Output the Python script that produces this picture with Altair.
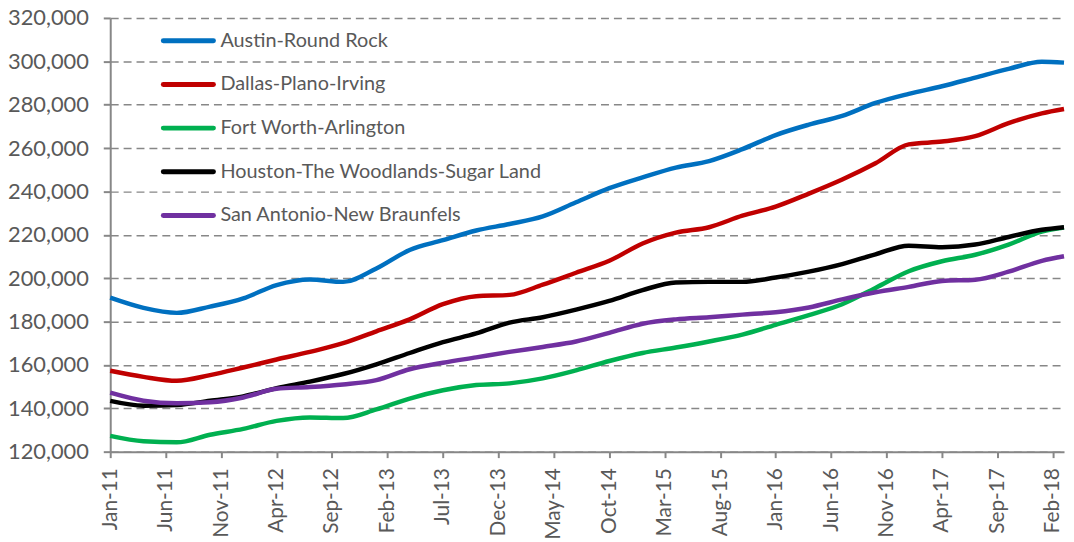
import altair as alt
import pandas as pd

SERIES = [
    "Austin-Round Rock",
    "Dallas-Plano-Irving",
    "Fort Worth-Arlington",
    "Houston-The Woodlands-Sugar Land",
    "San Antonio-New Braunfels",
]
COLORS = ["#0070C0", "#C00000", "#00B050", "#000000", "#7030A0"]

MONTH_ABBR = ["Jan", "Feb", "Mar", "Apr", "May", "Jun",
              "Jul", "Aug", "Sep", "Oct", "Nov", "Dec"]

SAMPLE_MONTHS = [
    "Jan-11", "Apr-11", "Jul-11", "Oct-11", "Jan-12", "Apr-12", "Jul-12", "Oct-12",
    "Jan-13", "Apr-13", "Jul-13", "Oct-13", "Jan-14", "Apr-14", "Jul-14", "Oct-14",
    "Jan-15", "Apr-15", "Jul-15", "Oct-15", "Jan-16", "Apr-16", "Jul-16", "Oct-16",
    "Jan-17", "Apr-17", "Jul-17", "Oct-17", "Jan-18", "Mar-18",
]

AUSTIN = [191000, 186300, 184000, 186900, 190700, 196800, 199400, 198300,
          204500, 213000, 217500, 222000, 225000, 228500, 235000, 241500,
          246500, 251000, 254000, 259500, 266000, 270800, 274800, 280800,
          285000, 288500, 292500, 296500, 299800, 299400]
DALLAS = [157300, 154500, 152700, 155300, 158800, 162500, 166000, 170000,
          175500, 181000, 188000, 191700, 192300, 197000, 202500, 208000,
          216000, 221000, 223500, 228800, 233000, 239000, 245500, 253000,
          261700, 263000, 265500, 271500, 276000, 278000]
FORT_WORTH = [127300, 124800, 124300, 127800, 130500, 134200, 135800, 135500,
              139500, 144500, 148300, 150700, 151500, 153800, 157500, 161800,
              165500, 168000, 170800, 174000, 178500, 183000, 188000, 195500,
              203200, 207800, 210800, 215500, 221500, 223300]
HOUSTON = [143400, 141200, 141500, 143500, 145500, 149300, 152300, 155800,
           160300, 165500, 170500, 174500, 179500, 182000, 185500, 189500,
           194500, 198000, 198300, 198300, 200300, 203000, 206500, 211000,
           215000, 214300, 215500, 219000, 222300, 223500]
SAN_ANTONIO = [147200, 143500, 142300, 142800, 145000, 149000, 149800, 151000,
               153000, 158000, 161000, 163500, 166000, 168300, 170800, 174800,
               179000, 181000, 182000, 183200, 184300, 186500, 190200, 193500,
               196000, 198700, 199300, 203000, 208000, 210100]

TICK_LABELS = ["Jan-11", "Jun-11", "Nov-11", "Apr-12", "Sep-12", "Feb-13",
               "Jul-13", "Dec-13", "May-14", "Oct-14", "Mar-15", "Aug-15",
               "Jan-16", "Jun-16", "Nov-16", "Apr-17", "Sep-17", "Feb-18"]
Y_TICKS = [120000, 140000, 160000, 180000, 200000, 220000,
           240000, 260000, 280000, 300000, 320000]


def month_index(label):
    m, y = label.split("-")
    return (int(y) - 11) * 12 + MONTH_ABBR.index(m)


rows = []
for name, vals in zip(SERIES, [AUSTIN, DALLAS, FORT_WORTH, HOUSTON, SAN_ANTONIO]):
    for lab, v in zip(SAMPLE_MONTHS, vals):
        rows.append({"series": name, "month": lab, "idx": month_index(lab), "value": v})
df = pd.DataFrame(rows)
legend_df = pd.DataFrame({"series": SERIES})

tick_vals = [month_index(l) for l in TICK_LABELS]
label_map = "{" + ",".join(f"'{month_index(l)}':'{l}'" for l in TICK_LABELS) + "}"
label_expr = f"{label_map}[''+datum.value]"

GRID = "#878787"
TEXT = "#595959"
FONT = "Lato"
FS = 21

color = alt.Color("series:N", scale=alt.Scale(domain=SERIES, range=COLORS), legend=None)

lines = alt.Chart(df).mark_line(strokeWidth=4.5, interpolate="monotone").encode(
    x=alt.X("idx:Q",
            scale=alt.Scale(domain=[0, 86], nice=False, zero=False),
            axis=alt.Axis(values=tick_vals, labelExpr=label_expr, labelAngle=270,
                          title=None, grid=False, domainColor=GRID, domainWidth=2,
                          tickColor=GRID, tickWidth=2, tickSize=6, labelPadding=10,
                          labelFontSize=FS, labelColor=TEXT, labelFont=FONT,
                          labelAlign="right", labelBaseline="middle")),
    y=alt.Y("value:Q",
            scale=alt.Scale(domain=[120000, 320000], nice=False, zero=False),
            axis=alt.Axis(values=Y_TICKS, format=",.0f", title=None,
                          gridDash=[8, 5], gridColor=GRID, gridWidth=1.5,
                          domainColor=GRID, domainWidth=2, tickColor=GRID,
                          tickWidth=2, tickSize=7, labelPadding=15,
                          labelFontSize=FS + 1, labelColor=TEXT, labelFont=FONT)),
    color=color,
    order="idx:Q",
)

leg_y = alt.Y("series:N",
              scale=alt.Scale(type="point", domain=SERIES, range=[23, 199], padding=0),
              axis=None)

leg_rules = alt.Chart(legend_df).mark_rule(strokeWidth=5, strokeCap="round").encode(
    x=alt.value(53.5), x2=alt.value(104), y=leg_y, color=color)

leg_text = alt.Chart(legend_df).mark_text(
    align="left", baseline="middle", fontSize=20, font=FONT, color=TEXT
).encode(x=alt.value(111), y=leg_y, text="series:N")

chart = alt.layer(lines, leg_rules, leg_text).resolve_scale(y="independent").properties(
    width=961, height=437,
    padding={"left": 103, "top": 8, "right": 2, "bottom": 90},
    autosize=alt.AutoSizeParams(type="none"),
).configure_view(stroke=None)

chart.save("out.html", embed_options={"renderer": "svg", "actions": False})
